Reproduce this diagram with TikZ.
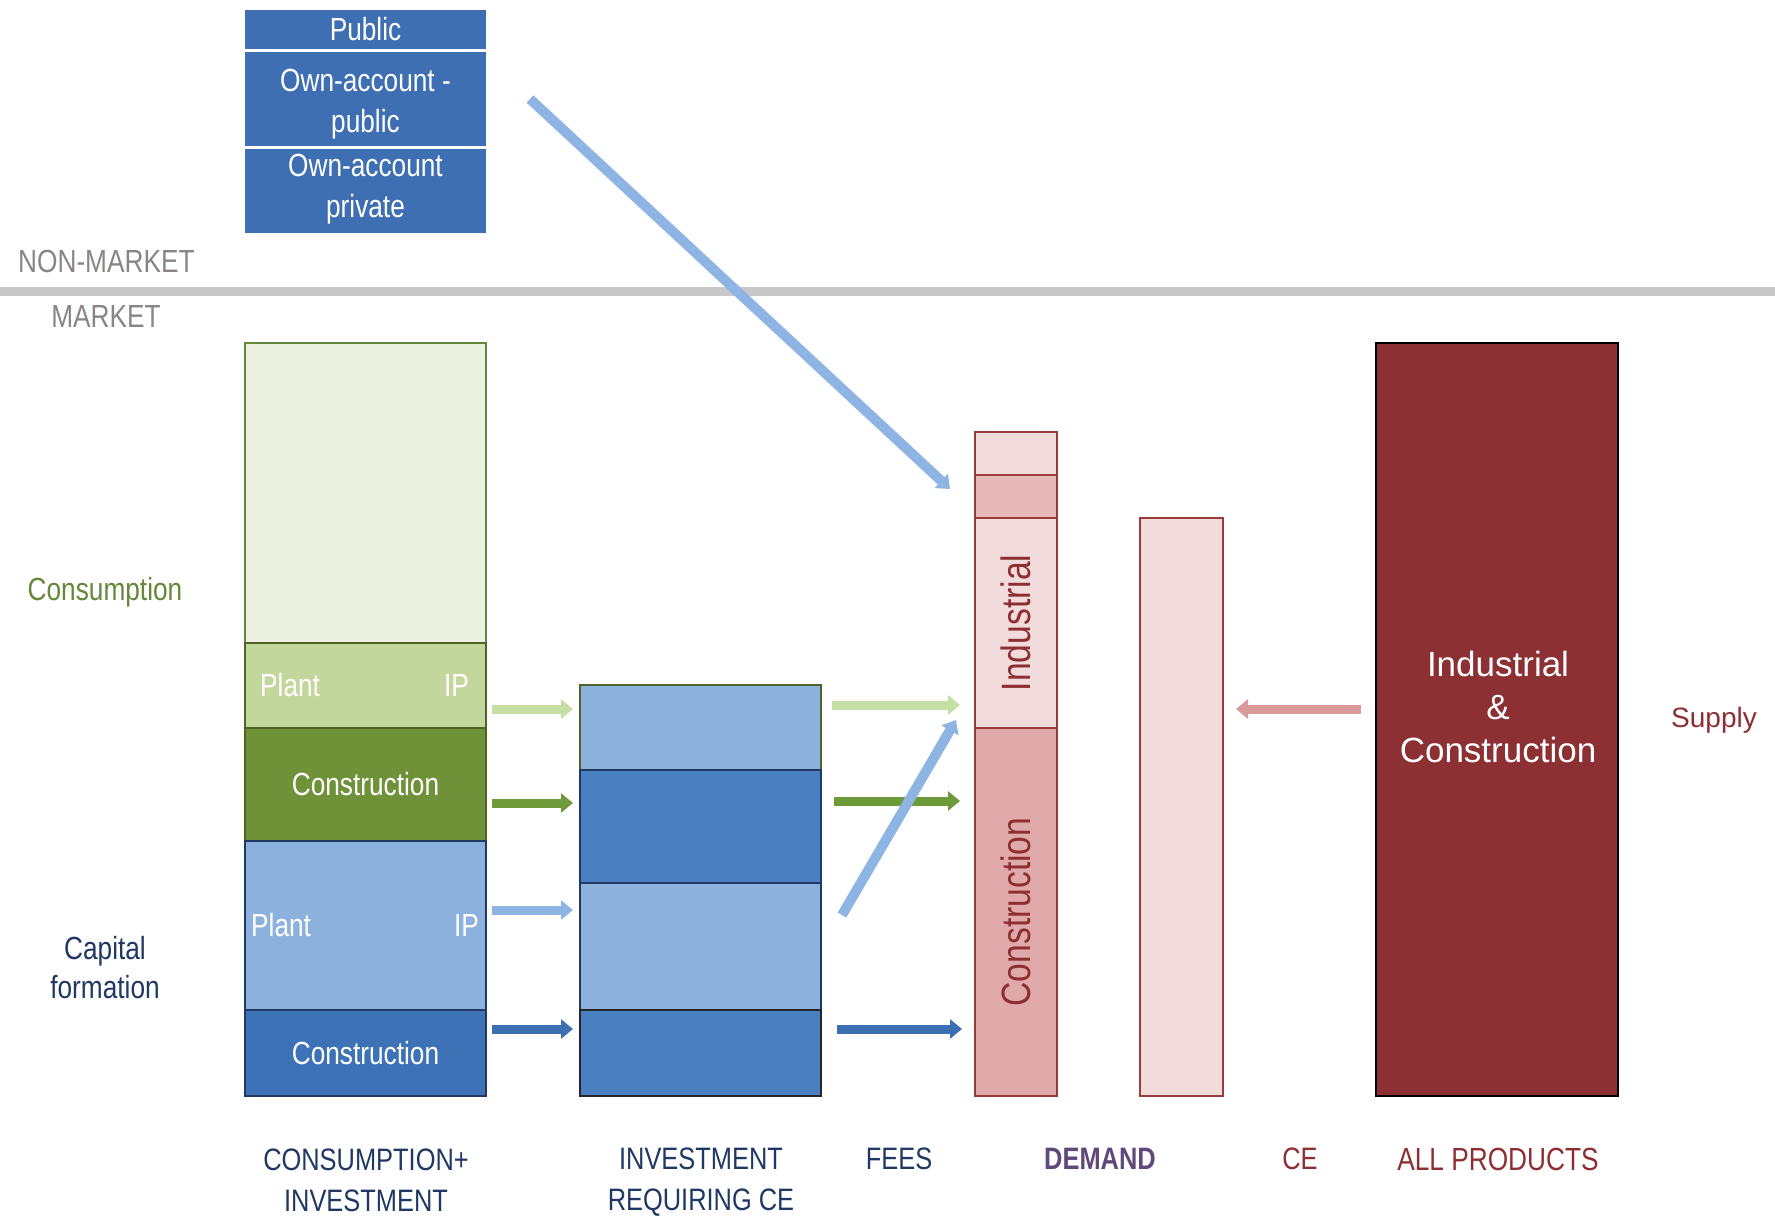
\documentclass[tikz,border=0pt]{standalone}
\usepackage{fontspec}
\setmainfont{Liberation Sans}
\newfontfamily\nar[FakeStretch=0.82]{Liberation Sans}
\usetikzlibrary{arrows.meta}
\definecolor{blueTop}{HTML}{3E6FB3}
\definecolor{blueDark}{HTML}{3D72B6}
\definecolor{blueDarkB}{HTML}{4A7FC1}
\definecolor{blueLight}{HTML}{8DB1DD}
\definecolor{greenPale}{HTML}{EBF1DE}
\definecolor{greenLight}{HTML}{C3D69B}
\definecolor{greenDark}{HTML}{6F9239}
\definecolor{greenEdge}{HTML}{66873A}
\definecolor{oliveEdge}{HTML}{4F6228}
\definecolor{navyEdge}{HTML}{1F3864}
\definecolor{navyText}{HTML}{1F3864}
\definecolor{pinkLight}{HTML}{F2DCDB}
\definecolor{pinkMid}{HTML}{E6B9B8}
\definecolor{pinkCon}{HTML}{E1AAAA}
\definecolor{redEdge}{HTML}{9B3B3B}
\definecolor{redText}{HTML}{8E2E33}
\definecolor{allpFill}{HTML}{8C3033}
\definecolor{purpleText}{HTML}{60497A}
\definecolor{greyLine}{HTML}{C8C8C8}
\definecolor{greyText}{HTML}{8A8584}
\definecolor{arGreenL}{HTML}{C5DEA3}
\definecolor{arGreenD}{HTML}{6E9A3A}
\definecolor{arBlueL}{HTML}{8DB4E2}
\definecolor{arBlueD}{HTML}{3B70B3}
\definecolor{arPink}{HTML}{D9999A}
\newcommand\secbox[7]{\node[secb,#6,anchor=north west,minimum width={#4-#2},minimum height={#5-#3}] (#1) at (#2,#3) {#7};}
\begin{document}
\begin{tikzpicture}[x=1pt,y=-1pt,
  secb/.style={rectangle,inner sep=0pt,outer sep=0pt,line width=2pt},
  wtxt/.style={text=white,font=\nar\fontsize{32}{41}\selectfont,align=center},
  lab/.style={font=\nar\fontsize{32}{41}\selectfont,align=center,inner sep=0pt},
  botlab/.style={font=\nar\fontsize{31}{41}\selectfont,align=center,inner sep=0pt,text=navyText},
  rot/.style={font=\nar\fontsize{41}{45}\selectfont,text=redText,rotate=90,inner sep=0pt},
  flow/.style={line width=9pt,-{Triangle[length=12pt,width=19pt]}},
]
\useasboundingbox (0,0) rectangle (1775,1219);
% divider
\coordinate (divL) at (0,291);
\coordinate (divR) at (1775,291);
\draw[line width=9pt,greyLine] (divL) -- (divR);
\node[lab,text=greyText,anchor=west] (nonmkt) at (18,261) {NON-MARKET};
\node[lab,text=greyText] (mkt) at (106,316) {MARKET};

% non-market boxes
\secbox{pub}{245}{10}{486}{49}{fill=blueTop}{}
\secbox{oap}{245}{52}{486}{146}{fill=blueTop}{}
\secbox{oapr}{245}{149}{486}{233}{fill=blueTop}{}
\node[wtxt] (pubt) at (pub.center) {Public};
\node[wtxt] (oapt) at (365.5,104) {Own-account -\\public};
\node[wtxt] (oaprt) at (365.5,189) {Own-account\\private};

% column 1
\secbox{cons}{245}{343}{486}{643}{fill=greenPale,draw=greenEdge}{}
\secbox{plantC}{245}{643}{486}{728}{fill=greenLight,draw=oliveEdge}{}
\secbox{conC}{245}{728}{486}{841}{fill=greenDark,draw=oliveEdge}{}
\secbox{plantK}{245}{841}{486}{1010}{fill=blueLight,draw=navyEdge}{}
\secbox{conK}{245}{1010}{486}{1096}{fill=blueDark,draw=navyEdge}{}
\node[wtxt] (conCt) at (conC.center) {Construction};
\node[wtxt] (conKt) at (conK.center) {Construction};
\node[wtxt,anchor=west,inner sep=0pt] (pl1) at ([xshift=15pt]plantC.west) {Plant};
\node[wtxt,anchor=east,inner sep=0pt] (ip1) at ([xshift=-17pt]plantC.east) {IP};
\node[wtxt,anchor=west,inner sep=0pt] (pl2) at ([xshift=6pt]plantK.west) {Plant};
\node[wtxt,anchor=east,inner sep=0pt] (ip2) at ([xshift=-7pt]plantK.east) {IP};

% column 2
\secbox{s1}{580}{685}{821}{770}{fill=blueLight,draw=oliveEdge}{}
\secbox{s2}{580}{770}{821}{883}{fill=blueDarkB,draw=navyEdge}{}
\secbox{s3}{580}{883}{821}{1010}{fill=blueLight,draw=navyEdge}{}
\secbox{s4}{580}{1010}{821}{1096}{fill=blueDarkB,draw=black!85}{}
\draw[oliveEdge,line width=2pt] (s1.north west) -- (s1.north east);

% demand column
\secbox{d1}{975}{432}{1057}{475}{fill=pinkLight,draw=redEdge,line width=2.5pt}{}
\secbox{d2}{975}{475}{1057}{518}{fill=pinkMid,draw=redEdge,line width=2.5pt}{}
\secbox{d3}{975}{518}{1057}{728}{fill=pinkLight,draw=redEdge,line width=2.5pt}{}
\secbox{d4}{975}{728}{1057}{1096}{fill=pinkCon,draw=redEdge,line width=2.5pt}{}
\node[rot] (indt) at (d3.center) {Industrial};
\node[rot] (cont) at (d4.center) {Construction};

% CE column
\secbox{ce}{1140}{518}{1223}{1096}{fill=pinkLight,draw=redEdge,line width=2.5pt}{}

% all products
\secbox{allp}{1376}{343}{1618}{1096}{fill=allpFill,draw=black}{}
\node[text=white,font=\fontsize{35}{43}\selectfont,align=center,inner sep=0pt] (allpt) at (1498,707) {Industrial\\\&\\Construction};
\node[text=redText,font=\fontsize{28}{32}\selectfont,inner sep=0pt] (supply) at (1714,720) {Supply};

% left labels
\node[lab,text=greenEdge] (consl) at (105,592) {Consumption};
\node[lab,text=navyText,font=\nar\fontsize{32}{39}\selectfont] (capl) at (105,968) {Capital\\formation};

% bottom labels
\node[botlab] (bl1) at (366,1180) {CONSUMPTION+\\INVESTMENT};
\node[botlab] (bl2) at (701,1182) {INVESTMENT\\REQUIRING CE};
\node[botlab] (bl3) at (899,1159) {FEES};
\node[botlab,text=purpleText,font=\nar\bfseries\fontsize{31}{41}\selectfont] (bl4) at (1100,1159) {DEMAND};
\node[botlab,text=redText] (bl5) at (1300,1159) {CE};
\node[botlab,text=redText,font=\nar\fontsize{32}{41}\selectfont] (bl6) at (1498,1159) {ALL PRODUCTS};

% arrow coordinates
\coordinate (a1s) at (492,709);  \coordinate (a1e) at (573,709);
\coordinate (a2s) at (492,803);  \coordinate (a2e) at (573,803);
\coordinate (a3s) at (492,910);  \coordinate (a3e) at (573,910);
\coordinate (a4s) at (492,1029); \coordinate (a4e) at (573,1029);
\coordinate (b1s) at (832,705);  \coordinate (b1e) at (960,705);
\coordinate (b2s) at (834,801);  \coordinate (b2e) at (960,801);
\coordinate (b4s) at (837,1029); \coordinate (b4e) at (962,1029);
\coordinate (b3s) at (842,915);  \coordinate (b3e) at (956,720);
\coordinate (tps) at (530,99);   \coordinate (tpe) at (950,489);
\coordinate (ces) at (1361,709); \coordinate (cee) at (1236,709);

\draw[flow,arGreenL] (a1s) -- (a1e);
\draw[flow,arGreenD] (a2s) -- (a2e);
\draw[flow,arBlueL] (a3s) -- (a3e);
\draw[flow,arBlueD] (a4s) -- (a4e);
\draw[flow,arGreenL] (b1s) -- (b1e);
\draw[flow,arGreenD] (b2s) -- (b2e);
\draw[flow,arBlueD] (b4s) -- (b4e);
\draw[flow,arBlueL,line width=10pt] (b3s) -- (b3e);
\draw[flow,arBlueL,line width=10pt] (tps) -- (tpe);
\draw[flow,arPink] (ces) -- (cee);
\end{tikzpicture}
\end{document}
